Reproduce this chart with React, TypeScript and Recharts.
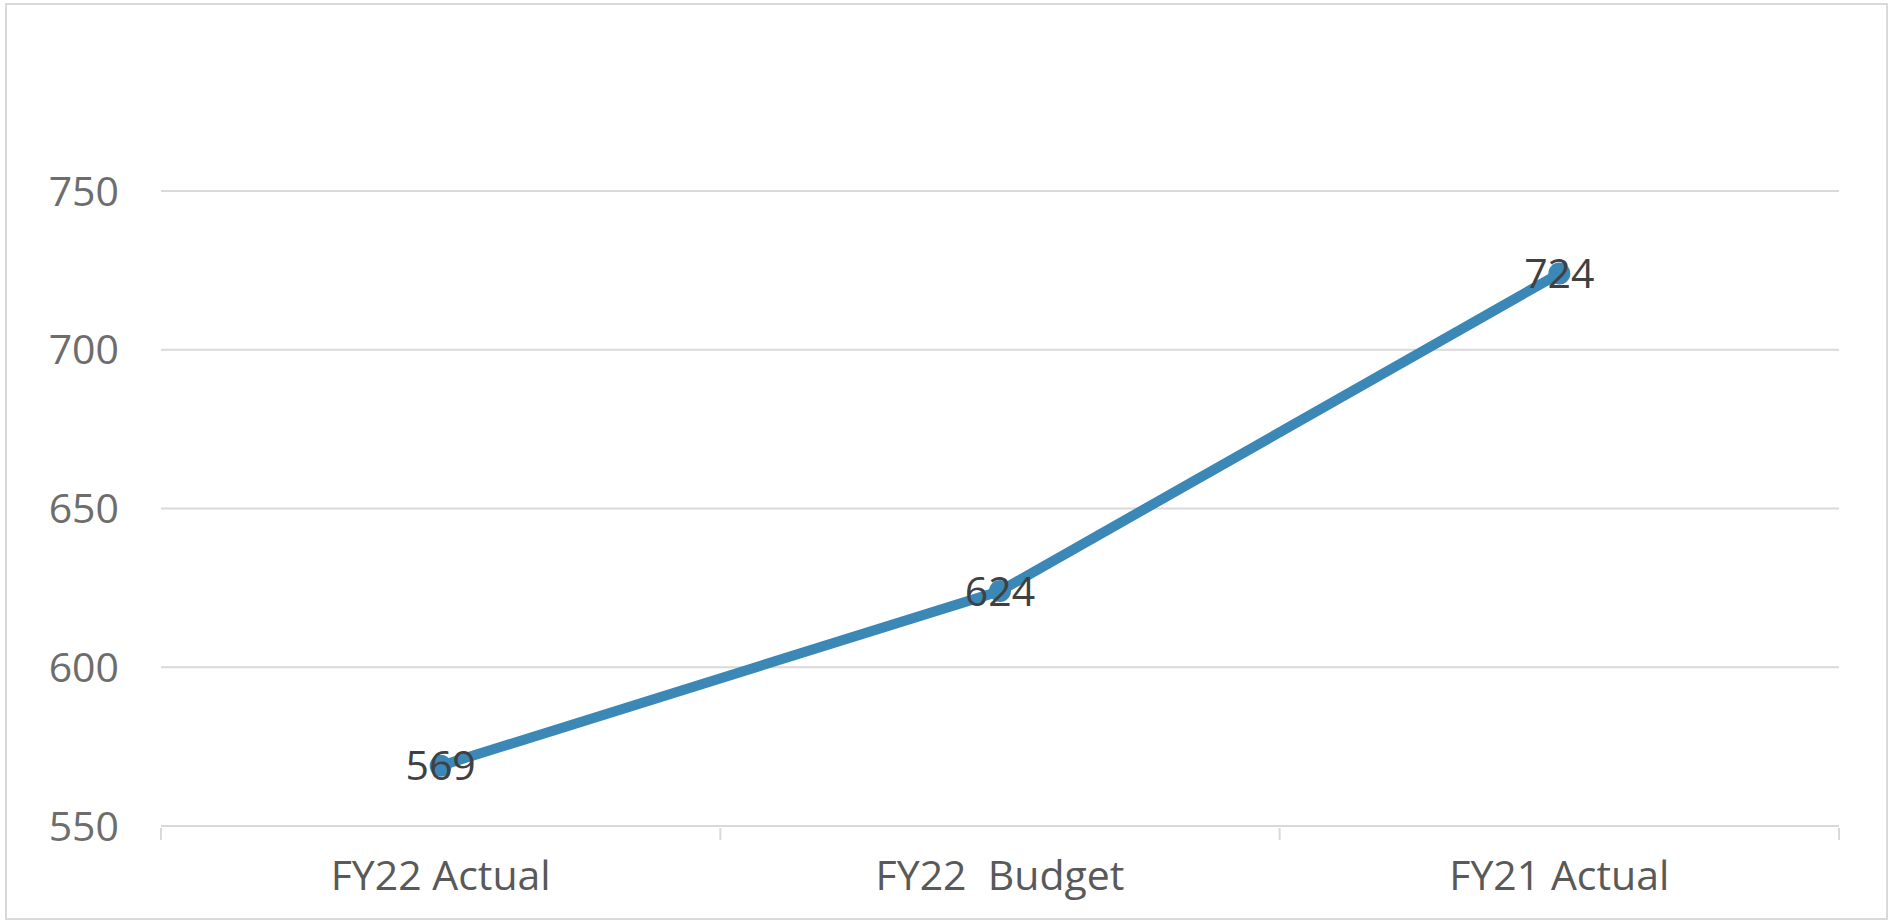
import React from 'react';
import { LineChart, Line, XAxis, YAxis, CartesianGrid, LabelList } from 'recharts';

const categories = ['FY22 Actual', 'FY22  Budget', 'FY21 Actual'];
const values = [569, 624, 724];
const yTicks = [550, 600, 650, 700, 750];

const W = 1893;
const H = 922;
const FONT = '"Open Sans", sans-serif';
const FS = 41;

const data = categories.map((name, i) => ({ name, value: values[i] }));

// x-axis label plus the boundary tick marks Excel draws between categories
const CategoryTick = (props: any) => {
  const { x, y, payload, index, visibleTicksCount } = props;
  const half = payload?.offset ?? 0;
  const last = index === visibleTicksCount - 1;
  return (
    <g>
      <line x1={x - half} y1={y} x2={x - half} y2={y + 12} stroke="#d9d9d9" strokeWidth={2} />
      {last && <line x1={x + half} y1={y} x2={x + half} y2={y + 12} stroke="#d9d9d9" strokeWidth={2} />}
      <text
        x={x}
        y={y + 46}
        textAnchor="middle"
        dominantBaseline="central"
        fill="#595959"
        fontSize={FS}
        fontFamily={FONT}
        style={{ whiteSpace: 'pre' }}
      >
        {payload.value}
      </text>
    </g>
  );
};

const App: React.FC = () => {
  return (
    <div style={{ position: 'absolute', left: 0, top: 0, width: W, height: H, background: '#fff' }}>
      <div
        style={{
          position: 'absolute',
          left: 5,
          top: 3,
          width: 1883,
          height: 917,
          border: '2px solid #d9d9d9',
          boxSizing: 'border-box',
        }}
      />
      <div style={{ position: 'absolute', left: 0, top: 0 }}>
        <LineChart width={W} height={H} data={data} margin={{ top: 191, right: 54, bottom: 36, left: 1 }}>
          <CartesianGrid vertical={false} stroke="#d9d9d9" strokeWidth={2} />
          <XAxis
            dataKey="name"
            scale="band"
            axisLine={{ stroke: '#d9d9d9', strokeWidth: 2 }}
            tickLine={false}
            tickSize={0}
            height={60}
            interval={0}
            tick={<CategoryTick />}
          />
          <YAxis
            domain={[550, 750]}
            ticks={yTicks}
            width={160}
            axisLine={false}
            tickLine={false}
            tickSize={0}
            tickMargin={42}
            tick={{ fill: '#6d6d6d', fontSize: FS, fontFamily: FONT }}
          />
          <Line
            dataKey="value"
            stroke="#3b87b6"
            strokeWidth={10}
            dot={{ r: 11, fill: '#3b87b6', stroke: 'none' }}
            isAnimationActive={false}
          >
            <LabelList
              dataKey="value"
              position="center"
              fill="#404040"
              fontSize={FS}
              fontFamily={FONT}
            />
          </Line>
        </LineChart>
      </div>
    </div>
  );
};

export default App;
